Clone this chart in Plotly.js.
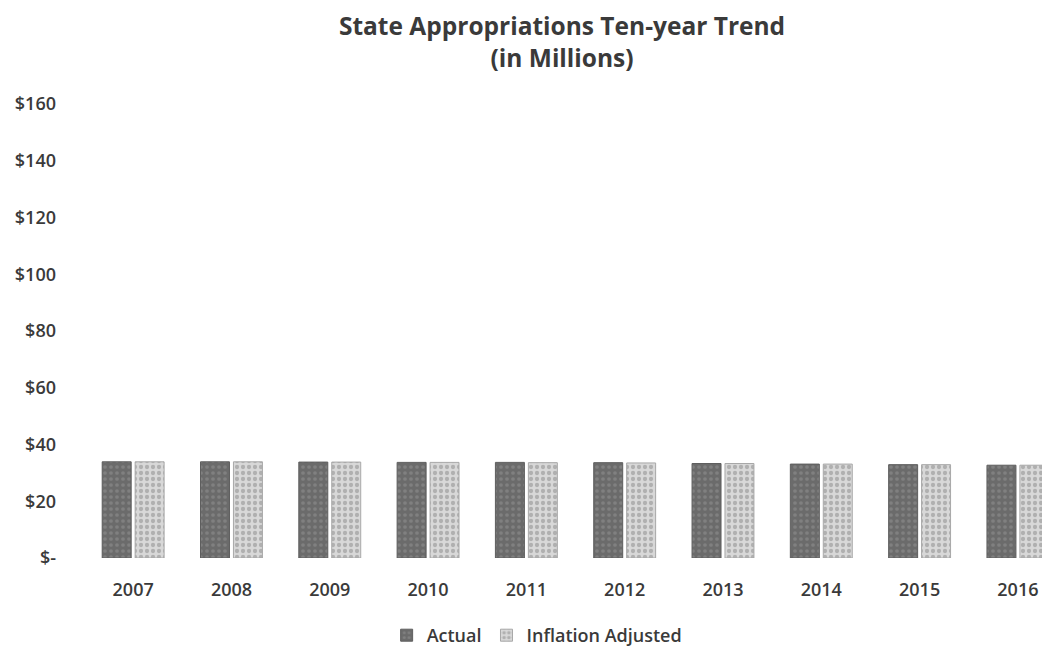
<!DOCTYPE html>
<html>
<head>
<meta charset="utf-8">
<script src="https://cdn.plot.ly/plotly-3.0.1.min.js"></script>
<style>html,body{margin:0;padding:0;background:#fff;}#chart{width:1042px;height:654px;}</style>
</head>
<body>
<div id="chart"></div>
<script>
var years = ["2007","2008","2009","2010","2011","2012","2013","2014","2015","2016"];
var actual = [33.9, 33.9, 33.8, 33.7, 33.7, 33.6, 33.3, 33.1, 32.9, 32.7];
var inflationAdjusted = [33.9, 33.9, 33.8, 33.7, 33.6, 33.5, 33.3, 33.1, 32.9, 32.7];
var tickVals = [0, 20, 40, 60, 80, 100, 120, 140, 160];
var tickText = ["$-", "$20", "$40", "$60", "$80", "$100", "$120", "$140", "$160"];

var fontFam = "'Open Sans', Lato, sans-serif";
var txtColor = "#3a3a3a";

var traces = [
  {
    type: "bar", name: "Actual", x: years, y: actual,
    marker: {color: "#6d6d6d", line: {color: "#5e5e5e", width: 1},
             pattern: {shape: ".", fgcolor: "#808080", bgcolor: "#6b6b6b", size: 6, solidity: 0.3}},
    hoverinfo: "x+y"
  },
  {
    type: "bar", name: "Inflation Adjusted", x: years, y: inflationAdjusted,
    marker: {color: "#d2d2d2", line: {color: "#a8a8a8", width: 1},
             pattern: {shape: ".", fgcolor: "#b0b0b0", bgcolor: "#d8d8d8", size: 6, solidity: 0.4}},
    hoverinfo: "x+y"
  }
];

var layout = {
  width: 1042, height: 654,
  paper_bgcolor: "#ffffff", plot_bgcolor: "#ffffff",
  margin: {l: 84, r: 0, t: 104, b: 95},
  font: {family: fontFam, color: txtColor},
  title: {
    text: "<b>State Appropriations Ten-year Trend<br>(in Millions)</b>",
    font: {family: fontFam, size: 24.5, color: txtColor},
    x: 0.499, xref: "paper", xanchor: "center",
    y: 0.946, yref: "container", yanchor: "top"
  },
  barmode: "group",
  bargap: 0.33,
  bargroupgap: 0.12,
  xaxis: {
    type: "category",
    range: [-0.5, 9.245],
    showgrid: false, zeroline: false, showline: false,
    ticks: "", ticklabelstandoff: 19,
    tickfont: {family: fontFam, size: 18, color: txtColor, weight: 600}
  },
  yaxis: {
    range: [0, 160],
    tickvals: tickVals, ticktext: tickText,
    showgrid: false, zeroline: false, showline: false,
    ticks: "", ticklabelstandoff: 27,
    tickfont: {family: fontFam, size: 18, color: txtColor, weight: 600}
  },
  legend: {
    orientation: "h", x: 0.473, xanchor: "center", y: -0.13, yanchor: "top",
    font: {family: fontFam, size: 18, color: txtColor, weight: 600},
    itemwidth: 30, traceorder: "normal"
  },
  showlegend: true
};

Plotly.newPlot("chart", traces, layout, {displayModeBar: false, staticPlot: true});
</script>
</body>
</html>
